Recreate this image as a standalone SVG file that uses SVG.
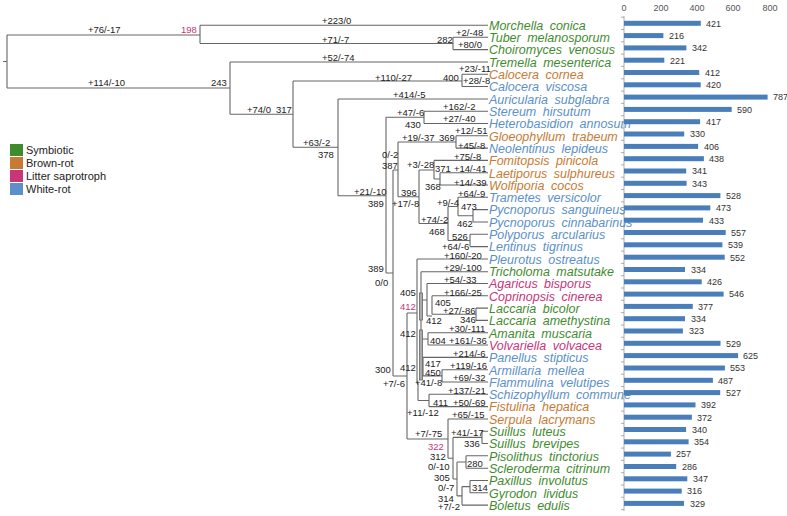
<svg xmlns="http://www.w3.org/2000/svg" width="787" height="516" viewBox="0 0 787 516">
<style>
.t{fill:none;stroke:#666;stroke-width:1.1}
.l{font-family:"Liberation Sans",Arial,sans-serif;font-size:9.5px;fill:#222}
.m{fill:#c8357a}
.sp{font-family:"Liberation Sans",Arial,sans-serif;font-size:12.5px;font-style:italic;word-spacing:3px}
.g{fill:#3f8c2f}.b{fill:#c77a34}.p{fill:#c8357a}.w{fill:#5b90c8}
.bar{fill:#4a7ebb}
.v{font-family:"Liberation Sans",Arial,sans-serif;font-size:9px;fill:#333}
.ax{font-family:"Liberation Sans",Arial,sans-serif;font-size:9px;fill:#555;text-anchor:middle}
.lg{font-family:"Liberation Sans",Arial,sans-serif;font-size:11px;fill:#222}
.bx{fill:#aaa;stroke:#666;stroke-width:0.8}
</style>
<rect width="787" height="516" fill="#fff"/>
<g id="connectors">
<path class="t" d="M3,61.5H7M7,35V88M7,35H200M200,25.3V43.5M200,25.3H488M200,43.5H453M453,37.3V49.6M453,37.3H488M453,49.6H488
M7,88H230M230,62V114.3M230,62H488M230,114.3H293M293,81V147.3M293,81H462M462,74.2V86.5M462,74.2H488M462,86.5H488
M293,147.3H338M338,99V195.7M338,99H488M338,195.7H386M386,117.3V273M386,117.3H424M424,111.2V123.5M424,111.2H488M424,123.5H488
M386,273H393M393,170V376M393,170H398M398,142V196.7M398,142H456M456,135.8V148.1M456,135.8H488M456,148.1H488
M398,196.7H419M419,170V223.5M419,170H434M434,160.4V179M434,160.4H488M434,179H440M440,172.7V185M440,172.7H488M440,185H488
M419,223.5H448M448,206.5V240.5M448,206.5H458M458,197.3V215.8M458,197.3H488M458,215.8H473M473,209.6V222M473,209.6H488M473,222H488
M448,240.5H470M470,234.3V246.6M470,234.3H488M470,246.6H488
M393,376H407M407,313V439M407,313H417M417,259V383.5M417,259H488
M421,271.7V367M421,271.7H488M423,300H427M427,283.5V316M427,283.5H488M427,316H432M432,295.8V314.3M432,295.8H488M432,314.3H476M476,308.1V320.4M476,308.1H488M476,320.4H488
M423,339H428M428,332.7V345M428,332.7H488M428,345H488
M423,367H423M423,357.4V375.9M423,357.4H488M423,375.9H442M442,369.7V382M442,369.7H488M442,382H488
M417,383.5H418M418,383.5V400.5M418,400.5H429M429,394.3V406.6M429,394.3H488M429,406.6H488
M407,439H448M448,419V458.2M448,419H488M448,458.2H453M453,437.4V479M453,437.4H482M482,431.2V443.5M482,431.2H488M482,443.5H488
M453,479H457M457,462V495.9M457,462H466M466,455.8V468.2M466,455.8H488M466,468.2H488M457,495.9H462M462,486.6V505.1M462,486.6H470M470,480.5V492.8M470,480.5H488M470,492.8H488M462,505.1H488"/>
<rect class="bx" x="419.5" y="293" width="3" height="27"/>
<rect class="bx" x="419.5" y="330" width="3" height="50"/>
</g>
<g id="branch-labels">
<text class="l" x="88" y="32.5">+76/-17</text>
<text class="l m" x="181" y="32.5">198</text>
<text class="l" x="322" y="23.5">+223/0</text>
<text class="l" x="322" y="42.5">+71/-7</text>
<text class="l" x="322" y="60.5">+52/-74</text>
<text class="l" x="88" y="85.5">+114/-10</text>
<text class="l" x="211" y="85.5">243</text>
<text class="l" x="247" y="112.5">+74/0</text>
<text class="l" x="276" y="112.5">317</text>
<text class="l" x="375" y="80.5">+110/-27</text>
<text class="l" x="443" y="80.5">400</text>
<text class="l" x="437" y="42.5">282</text>
<text class="l" x="456" y="36">+2/-48</text>
<text class="l" x="458" y="47.5">+80/0</text>
<text class="l" x="459" y="71.5">+23/-11</text>
<text class="l" x="463" y="83.5">+28/-8</text>
<text class="l" x="393" y="97.5">+414/-5</text>
<text class="l" x="443" y="109.5">+162/-2</text>
<text class="l" x="397" y="116">+47/-6</text>
<text class="l" x="443" y="121.5">+27/-40</text>
<text class="l" x="405" y="127.5">430</text>
<text class="l" x="455" y="133.5">+12/-51</text>
<text class="l" x="439" y="140.5">369</text>
<text class="l" x="402" y="140.5">+19/-37</text>
<text class="l" x="303" y="145.5">+63/-2</text>
<text class="l" x="458" y="148.5">+45/-8</text>
<text class="l" x="382" y="157.5">0/-2</text>
<text class="l" x="318" y="157.5">378</text>
<text class="l" x="454" y="159.5">+75/-8</text>
<text class="l" x="407" y="167.5">+3/-28</text>
<text class="l" x="382" y="168.5">387</text>
<text class="l" x="435" y="171.5">371</text>
<text class="l" x="454" y="171.5">+14/-41</text>
<text class="l" x="454" y="185.5">+14/-39</text>
<text class="l" x="425" y="189.5">368</text>
<text class="l" x="354" y="194.5">+21/-10</text>
<text class="l" x="401" y="195.5">396</text>
<text class="l" x="458" y="196.5">+64/-9</text>
<text class="l" x="437" y="205.5">+9/-4</text>
<text class="l" x="368" y="206.5">389</text>
<text class="l" x="392" y="206.5">+17/-8</text>
<text class="l" x="461" y="209.5">473</text>
<text class="l" x="421" y="222.5">+74/-2</text>
<text class="l" x="457" y="226.5">462</text>
<text class="l" x="429" y="234.5">468</text>
<text class="l" x="452" y="239.5">526</text>
<text class="l" x="442" y="249.5">+64/-6</text>
<text class="l" x="444" y="258.5">+160/-20</text>
<text class="l" x="368" y="271.5">389</text>
<text class="l" x="444" y="270.5">+29/-100</text>
<text class="l" x="444" y="282.5">+54/-33</text>
<text class="l" x="375" y="285.5">0/0</text>
<text class="l" x="400" y="295.5">405</text>
<text class="l" x="444" y="295.5">+166/-25</text>
<text class="l" x="435" y="305.5">405</text>
<text class="l m" x="400" y="309.5">412</text>
<text class="l" x="443" y="313.5">+27/-86</text>
<text class="l" x="460" y="322.5">346</text>
<text class="l" x="426" y="323.5">412</text>
<text class="l" x="449" y="331.5">+30/-111</text>
<text class="l" x="400" y="336.5">412</text>
<text class="l" x="430" y="343.5">404</text>
<text class="l" x="449" y="343.5">+161/-36</text>
<text class="l" x="453" y="356.5">+214/-6</text>
<text class="l" x="425" y="366.5">417</text>
<text class="l" x="450" y="368.5">+119/-16</text>
<text class="l" x="400" y="370.5">412</text>
<text class="l" x="375" y="372.5">300</text>
<text class="l" x="425" y="375.5">450</text>
<text class="l" x="453" y="380.5">+69/-32</text>
<text class="l" x="415" y="385.5">+41/-8</text>
<text class="l" x="383" y="386.5">+7/-6</text>
<text class="l" x="448" y="393.5">+137/-21</text>
<text class="l" x="433" y="405.5">411</text>
<text class="l" x="453" y="405.5">+50/-69</text>
<text class="l" x="407" y="415.5">+11/-12</text>
<text class="l" x="452" y="417.5">+65/-15</text>
<text class="l" x="451" y="435.5">+41/-17</text>
<text class="l" x="415" y="436.5">+7/-75</text>
<text class="l" x="464" y="446.5">336</text>
<text class="l m" x="428" y="449.5">322</text>
<text class="l" x="430" y="459.5">312</text>
<text class="l" x="467" y="466.5">280</text>
<text class="l" x="428" y="469.5">0/-10</text>
<text class="l" x="434" y="480.5">305</text>
<text class="l" x="438" y="490.5">0/-7</text>
<text class="l" x="472" y="490.5">314</text>
<text class="l" x="438" y="501.5">314</text>
<text class="l" x="438" y="509.5">+7/-2</text>
</g>
<g id="legend">
<rect x="10" y="144" width="13" height="12" fill="#3f8c2f"/><text class="lg" x="26" y="154">Symbiotic</text>
<rect x="10" y="157" width="13" height="12" fill="#c77a34"/><text class="lg" x="26" y="167">Brown-rot</text>
<rect x="10" y="170" width="13" height="12" fill="#c8357a"/><text class="lg" x="26" y="180">Litter saprotroph</text>
<rect x="10" y="183" width="13" height="12" fill="#5b90c8"/><text class="lg" x="26" y="193">White-rot</text>
</g>
<g id="axis">
<text class="ax" x="624" y="11">0</text><text class="ax" x="661" y="11">200</text><text class="ax" x="697" y="11">400</text><text class="ax" x="733" y="11">600</text><text class="ax" x="770" y="11">800</text>
<path d="M624,16V511" stroke="#999" stroke-width="0.8" fill="none"/>
<path d="M621,17.2h3M621,29.5h3M621,41.8h3M621,54.1h3M621,66.4h3M621,78.8h3M621,91.1h3M621,103.4h3M621,115.7h3M621,128h3M621,140.3h3M621,152.6h3M621,164.9h3M621,177.2h3M621,189.5h3M621,201.9h3M621,214.2h3M621,226.5h3M621,238.8h3M621,251.1h3M621,263.4h3M621,275.7h3M621,288h3M621,300.3h3M621,312.6h3M621,325h3M621,337.3h3M621,349.6h3M621,361.9h3M621,374.2h3M621,386.5h3M621,398.8h3M621,411.1h3M621,423.4h3M621,435.7h3M621,448.1h3M621,460.4h3M621,472.7h3M621,485h3M621,497.3h3M621,509.6h3" stroke="#999" stroke-width="0.8" fill="none"/>
</g>
<g id="taxa">
<g id="n0"><text class="sp g" x="489" y="29.8">Morchella conica</text><rect class="bar" x="624" y="20.8" width="76.8" height="5"/><text class="v" x="706" y="26.6">421</text></g>
<g id="n1"><text class="sp g" x="489" y="42.1">Tuber melanosporum</text><rect class="bar" x="624" y="33.1" width="39.4" height="5"/><text class="v" x="669" y="38.9">216</text></g>
<g id="n2"><text class="sp g" x="489" y="54.4">Choiromyces venosus</text><rect class="bar" x="624" y="45.4" width="62.4" height="5"/><text class="v" x="692" y="51.2">342</text></g>
<g id="n3"><text class="sp g" x="489" y="66.7">Tremella mesenterica</text><rect class="bar" x="624" y="57.7" width="40.3" height="5"/><text class="v" x="670" y="63.5">221</text></g>
<g id="n4"><text class="sp b" x="489" y="79">Calocera cornea</text><rect class="bar" x="624" y="70" width="75.2" height="5"/><text class="v" x="705" y="75.8">412</text></g>
<g id="n5"><text class="sp w" x="489" y="91.3">Calocera viscosa</text><rect class="bar" x="624" y="82.3" width="76.7" height="5"/><text class="v" x="706" y="88.1">420</text></g>
<g id="n6"><text class="sp w" x="489" y="103.6">Auricularia subglabra</text><rect class="bar" x="624" y="94.6" width="143.6" height="5"/><text class="v" x="773" y="100.4">787</text></g>
<g id="n7"><text class="sp w" x="489" y="115.9">Stereum hirsutum</text><rect class="bar" x="624" y="106.9" width="107.7" height="5"/><text class="v" x="737" y="112.7">590</text></g>
<g id="n8"><text class="sp w" x="489" y="128.2">Heterobasidion annosum</text><rect class="bar" x="624" y="119.2" width="76.1" height="5"/><text class="v" x="706" y="125">417</text></g>
<g id="n9"><text class="sp b" x="489" y="140.5">Gloeophyllum trabeum</text><rect class="bar" x="624" y="131.5" width="60.2" height="5"/><text class="v" x="690" y="137.3">330</text></g>
<g id="n10"><text class="sp w" x="489" y="152.9">Neolentinus lepideus</text><rect class="bar" x="624" y="143.9" width="74.1" height="5"/><text class="v" x="704" y="149.7">406</text></g>
<g id="n11"><text class="sp b" x="489" y="165.2">Fomitopsis pinicola</text><rect class="bar" x="624" y="156.2" width="79.9" height="5"/><text class="v" x="709" y="162">438</text></g>
<g id="n12"><text class="sp b" x="489" y="177.5">Laetiporus sulphureus</text><rect class="bar" x="624" y="168.5" width="62.2" height="5"/><text class="v" x="692" y="174.3">341</text></g>
<g id="n13"><text class="sp b" x="489" y="189.8">Wolfiporia cocos</text><rect class="bar" x="624" y="180.8" width="62.6" height="5"/><text class="v" x="692" y="186.6">343</text></g>
<g id="n14"><text class="sp w" x="489" y="202.1">Trametes versicolor</text><rect class="bar" x="624" y="193.1" width="96.4" height="5"/><text class="v" x="726" y="198.9">528</text></g>
<g id="n15"><text class="sp w" x="489" y="214.4">Pycnoporus sanguineus</text><rect class="bar" x="624" y="205.4" width="86.3" height="5"/><text class="v" x="716" y="211.2">473</text></g>
<g id="n16"><text class="sp w" x="489" y="226.7">Pycnoporus cinnabarinus</text><rect class="bar" x="624" y="217.7" width="79" height="5"/><text class="v" x="709" y="223.5">433</text></g>
<g id="n17"><text class="sp w" x="489" y="239">Polyporus arcularius</text><rect class="bar" x="624" y="230" width="101.7" height="5"/><text class="v" x="731" y="235.8">557</text></g>
<g id="n18"><text class="sp w" x="489" y="251.3">Lentinus tigrinus</text><rect class="bar" x="624" y="242.3" width="98.4" height="5"/><text class="v" x="728" y="248.1">539</text></g>
<g id="n19"><text class="sp w" x="489" y="263.7">Pleurotus ostreatus</text><rect class="bar" x="624" y="254.7" width="100.7" height="5"/><text class="v" x="730" y="260.5">552</text></g>
<g id="n20"><text class="sp g" x="489" y="276">Tricholoma matsutake</text><rect class="bar" x="624" y="267" width="61" height="5"/><text class="v" x="691" y="272.8">334</text></g>
<g id="n21"><text class="sp p" x="489" y="288.3">Agaricus bisporus</text><rect class="bar" x="624" y="279.3" width="77.7" height="5"/><text class="v" x="707" y="285.1">426</text></g>
<g id="n22"><text class="sp p" x="489" y="300.6">Coprinopsis cinerea</text><rect class="bar" x="624" y="291.6" width="99.6" height="5"/><text class="v" x="729" y="297.4">546</text></g>
<g id="n23"><text class="sp g" x="489" y="312.9">Laccaria bicolor</text><rect class="bar" x="624" y="303.9" width="68.8" height="5"/><text class="v" x="698" y="309.7">377</text></g>
<g id="n24"><text class="sp g" x="489" y="325.2">Laccaria amethystina</text><rect class="bar" x="624" y="316.2" width="61" height="5"/><text class="v" x="691" y="322">334</text></g>
<g id="n25"><text class="sp g" x="489" y="337.5">Amanita muscaria</text><rect class="bar" x="624" y="328.5" width="58.9" height="5"/><text class="v" x="689" y="334.3">323</text></g>
<g id="n26"><text class="sp p" x="489" y="349.8">Volvariella volvacea</text><rect class="bar" x="624" y="340.8" width="96.5" height="5"/><text class="v" x="726" y="346.6">529</text></g>
<g id="n27"><text class="sp w" x="489" y="362.1">Panellus stipticus</text><rect class="bar" x="624" y="353.1" width="114.1" height="5"/><text class="v" x="743" y="358.9">625</text></g>
<g id="n28"><text class="sp w" x="489" y="374.5">Armillaria mellea</text><rect class="bar" x="624" y="365.5" width="100.9" height="5"/><text class="v" x="730" y="371.3">553</text></g>
<g id="n29"><text class="sp w" x="489" y="386.8">Flammulina velutipes</text><rect class="bar" x="624" y="377.8" width="88.9" height="5"/><text class="v" x="718" y="383.6">487</text></g>
<g id="n30"><text class="sp w" x="489" y="399.1">Schizophyllum commune</text><rect class="bar" x="624" y="390.1" width="96.2" height="5"/><text class="v" x="726" y="395.9">527</text></g>
<g id="n31"><text class="sp b" x="489" y="411.4">Fistulina hepatica</text><rect class="bar" x="624" y="402.4" width="71.5" height="5"/><text class="v" x="701" y="408.2">392</text></g>
<g id="n32"><text class="sp b" x="489" y="423.7">Serpula lacrymans</text><rect class="bar" x="624" y="414.7" width="67.9" height="5"/><text class="v" x="697" y="420.5">372</text></g>
<g id="n33"><text class="sp g" x="489" y="436">Suillus luteus</text><rect class="bar" x="624" y="427" width="62.1" height="5"/><text class="v" x="692" y="432.8">340</text></g>
<g id="n34"><text class="sp g" x="489" y="448.3">Suillus brevipes</text><rect class="bar" x="624" y="439.3" width="64.6" height="5"/><text class="v" x="694" y="445.1">354</text></g>
<g id="n35"><text class="sp g" x="489" y="460.6">Pisolithus tinctorius</text><rect class="bar" x="624" y="451.6" width="46.9" height="5"/><text class="v" x="676" y="457.4">257</text></g>
<g id="n36"><text class="sp g" x="489" y="473">Scleroderma citrinum</text><rect class="bar" x="624" y="464" width="52.2" height="5"/><text class="v" x="682" y="469.8">286</text></g>
<g id="n37"><text class="sp g" x="489" y="485.3">Paxillus involutus</text><rect class="bar" x="624" y="476.3" width="63.3" height="5"/><text class="v" x="693" y="482.1">347</text></g>
<g id="n38"><text class="sp g" x="489" y="497.6">Gyrodon lividus</text><rect class="bar" x="624" y="488.6" width="57.7" height="5"/><text class="v" x="687" y="494.4">316</text></g>
<g id="n39"><text class="sp g" x="489" y="509.9">Boletus edulis</text><rect class="bar" x="624" y="500.9" width="60" height="5"/><text class="v" x="690" y="506.7">329</text></g>
</g>
</svg>
